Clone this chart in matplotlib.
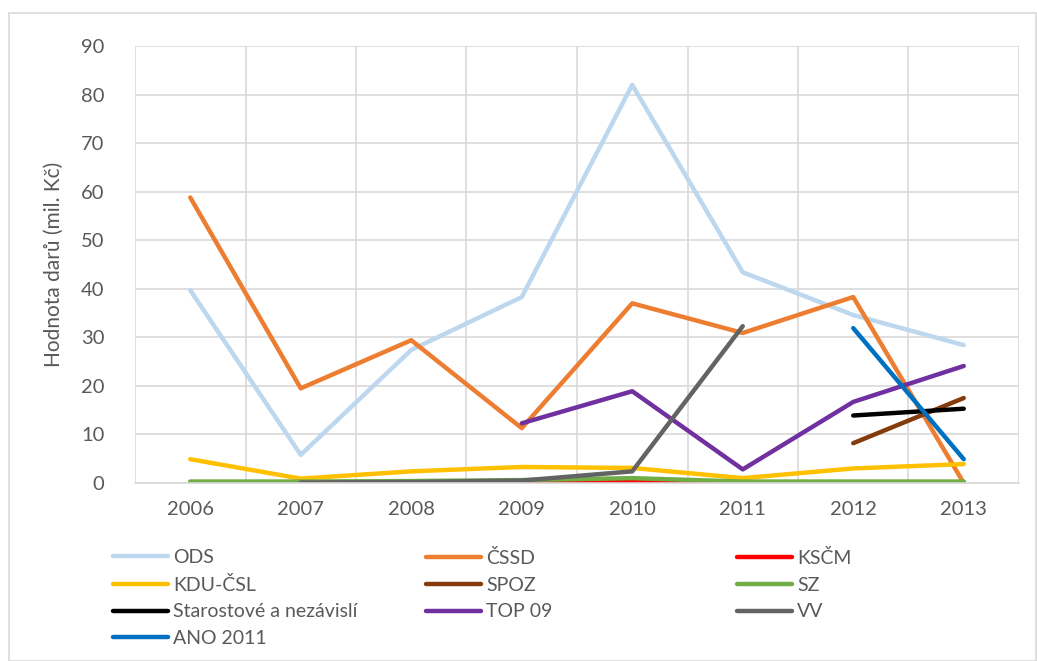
import matplotlib.pyplot as plt
import numpy as np
from matplotlib.patches import Rectangle

plt.rcParams['font.family'] = ['Lato', 'DejaVu Sans']

# Hodnota darů (mil. Kč) podle strany a roku
roky = ['2006', '2007', '2008', '2009', '2010', '2011', '2012', '2013']
nan = np.nan
ods = [39.7, 5.8, 27.4, 38.3, 82.0, 43.4, 34.6, 28.4]
cssd = [58.8, 19.5, 29.4, 11.3, 37.0, 30.9, 38.3, 0.0]
kscm = [0.1, 0.0, 0.1, 0.1, 0.3, 0.1, 0.1, 0.1]
kdu = [4.9, 0.9, 2.4, 3.3, 3.1, 1.0, 3.0, 3.9]
spoz = [nan, nan, nan, nan, nan, nan, 8.2, 17.5]
sz = [0.3, 0.3, 0.4, 0.6, 1.0, 0.3, 0.3, 0.3]
stan = [nan, nan, nan, nan, nan, nan, 13.9, 15.3]
top09 = [nan, nan, nan, 12.3, 18.9, 2.8, 16.7, 24.1]
vv = [nan, 0.1, 0.2, 0.5, 2.4, 32.3, nan, nan]
ano = [nan, nan, nan, nan, nan, nan, 31.9, 4.9]

serie = [
    ('ODS', ods, '#BDD7EE'),
    ('ČSSD', cssd, '#ED7D31'),
    ('KSČM', kscm, '#FF0000'),
    ('KDU-ČSL', kdu, '#FFC000'),
    ('SPOZ', spoz, '#843C0C'),
    ('SZ', sz, '#70AD47'),
    ('Starostové a nezávislí', stan, '#000000'),
    ('TOP 09', top09, '#7030A0'),
    ('VV', vv, '#636363'),
    ('ANO 2011', ano, '#0070C0'),
]

text_color = '#595959'
grid_color = '#D9D9D9'

fig = plt.figure(figsize=(10.37, 6.61), dpi=100)
fig.patches.append(Rectangle((9 / 1037, 0), 1027 / 1037, 648 / 661, transform=fig.transFigure,
                             fill=False, edgecolor=grid_color, linewidth=1.2))
ax = fig.add_axes([135 / 1037, 1 - 483 / 661, 884 / 1037, 437 / 661])

x = np.arange(len(roky))
lines = {}
for name, vals, col in serie:
    ln, = ax.plot(x, vals, color=col, linewidth=3.2, solid_capstyle='round', solid_joinstyle='round',
                  label=name)
    lines[name] = ln

ax.set_xlim(-0.5, len(roky) - 0.5)
ax.set_ylim(0, 90)
ax.set_yticks(np.arange(0, 91, 10))
ax.set_xticks(x)
ax.set_xticklabels(roky)
ax.set_xticks(np.arange(-0.5, len(roky), 1), minor=True)
ax.grid(True, axis='y', color=grid_color, linewidth=1.2)
ax.grid(True, axis='x', which='minor', color=grid_color, linewidth=1.2)
ax.set_axisbelow(True)
for s in ['top', 'right', 'left']:
    ax.spines[s].set_visible(False)
ax.spines['bottom'].set_color(grid_color)
ax.spines['bottom'].set_linewidth(1.2)
ax.tick_params(axis='both', which='both', length=0, labelsize=14.5, colors=text_color)
ax.tick_params(axis='y', pad=22)
ax.tick_params(axis='x', pad=13)
ax.set_ylabel('Hodnota darů (mil. Kč)', fontsize=15, color=text_color, labelpad=12)

# legenda ve třech sloupcích
sloupce = [['ODS', 'KDU-ČSL', 'Starostové a nezávislí', 'ANO 2011'],
           ['ČSSD', 'SPOZ', 'TOP 09'],
           ['KSČM', 'SZ', 'VV']]
x_pos = [113, 426, 737]
for xp, names in zip(x_pos, sloupce):
    handles = [lines[n] for n in names]
    leg = fig.legend(handles, names, loc='upper left', bbox_to_anchor=(xp / 1037, 1 - 549 / 661),
                     frameon=False, fontsize=14, handlelength=2.85, handletextpad=0.25,
                     labelspacing=0.5, borderpad=0, borderaxespad=0)
    for t in leg.get_texts():
        t.set_color(text_color)

fig.savefig('out.png', dpi=100)
